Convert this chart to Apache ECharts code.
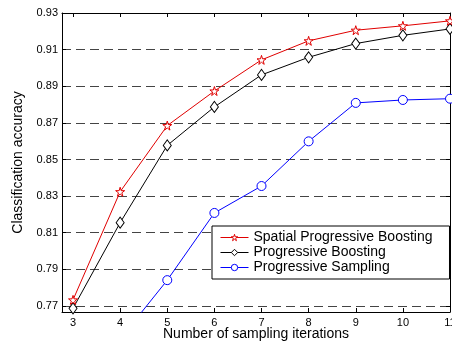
<!DOCTYPE html>
<html>
<head>
<meta charset="utf-8">
<script src="https://cdn.jsdelivr.net/npm/echarts@6/dist/echarts.min.js"></script>
<style>
  html, body { margin: 0; padding: 0; background: #fff; }
  #chart { width: 452px; height: 343px; }
</style>
</head>
<body>
<div id="chart"></div>
<script>
// iterations on the x axis
const iterations = [3, 4, 5, 6, 7, 8, 9, 10, 11]
const yTicks = [0.77, 0.79, 0.81, 0.83, 0.85, 0.87, 0.89, 0.91, 0.93]
const spatialBoosting = [0.7733, 0.8324, 0.8685, 0.8874, 0.9044, 0.9148, 0.9206, 0.9230, 0.9257]
const progBoosting = [0.7687, 0.8155, 0.8577, 0.8787, 0.8962, 0.9058, 0.9133, 0.9178, 0.9213]
const progSampling = [null, 0.752, 0.7841, 0.8208, 0.8355, 0.8599, 0.8809, 0.8825, 0.8832]

const starPath = 'path://M50,0 L61,35 L98,35 L68,57 L79,91 L50,70 L21,91 L32,57 L2,35 L39,35 Z'
const font = 'Liberation Sans'

function pairs(vals) {
  return iterations.map((x, i) => [x, vals[i]])
}

const chart = echarts.init(document.getElementById('chart'), null, { renderer: 'canvas' })

const axisLine = { show: true, lineStyle: { color: '#000', width: 1 } }

const option = {
  animation: false,
  backgroundColor: '#fff',
  grid: { left: 62, right: 2, top: 13, bottom: 31, outerBoundsMode: 'none' },
  legend: {
    orient: 'vertical',
    left: 212,
    top: 226,
    backgroundColor: '#fff',
    borderColor: '#000',
    borderWidth: 1,
    padding: [4, 17, 4, 8],
    itemWidth: 28,
    itemHeight: 8,
    itemGap: 0,
    itemStyle: { borderWidth: 1 },
    lineStyle: { width: 1 },
    textStyle: { fontFamily: font, fontSize: 14, color: '#000', lineHeight: 15 },
    data: ['Spatial Progressive Boosting', 'Progressive Boosting', 'Progressive Sampling']
  },
  xAxis: [{
    type: 'value',
    min: 2.766,
    max: 11,
    name: 'Number of sampling iterations',
    nameLocation: 'middle',
    nameGap: 15,
    nameMoveOverlap: false,
    nameTextStyle: { fontFamily: font, fontSize: 14, color: '#000' },
    axisLine: axisLine,
    axisTick: { inside: true, length: 4, customValues: iterations, lineStyle: { color: '#000' } },
    axisLabel: { customValues: iterations, margin: 5, fontFamily: font, fontSize: 11, color: '#000' },
    splitLine: { show: false }
  }, {
    type: 'value',
    position: 'top',
    min: 2.766,
    max: 11,
    axisLine: axisLine,
    axisTick: { inside: true, length: 4, customValues: iterations, lineStyle: { color: '#000' } },
    axisLabel: { show: false },
    splitLine: { show: false }
  }],
  yAxis: [{
    type: 'value',
    min: 0.7667,
    max: 0.93,
    name: 'Classification accuracy',
    nameLocation: 'middle',
    nameGap: 37,
    nameMoveOverlap: false,
    nameTextStyle: { fontFamily: font, fontSize: 14, color: '#000' },
    axisLine: axisLine,
    axisTick: { inside: true, length: 4, customValues: yTicks, lineStyle: { color: '#000' } },
    axisLabel: { customValues: yTicks, margin: 4, fontFamily: font, fontSize: 11, color: '#000',
      formatter: v => v.toFixed(2) },
    splitLine: { show: true, lineStyle: { color: '#444', type: [9, 5], width: 1 } }
  }, {
    type: 'value',
    position: 'right',
    min: 0.7667,
    max: 0.93,
    axisLine: axisLine,
    axisTick: { inside: true, length: 4, customValues: yTicks, lineStyle: { color: '#000' } },
    axisLabel: { show: false },
    splitLine: { show: false }
  }],
  series: [{
    name: 'Spatial Progressive Boosting',
    type: 'line',
    data: pairs(spatialBoosting),
    symbol: starPath,
    symbolSize: 9,
    lineStyle: { color: '#e00000', width: 1 },
    itemStyle: { color: '#fff', borderColor: '#e00000', borderWidth: 1 },
    z: 4
  }, {
    name: 'Progressive Boosting',
    type: 'line',
    data: pairs(progBoosting),
    symbol: 'diamond',
    symbolSize: [8, 11],
    lineStyle: { color: '#000', width: 1 },
    itemStyle: { color: '#fff', borderColor: '#000', borderWidth: 1 },
    z: 3
  }, {
    name: 'Progressive Sampling',
    type: 'line',
    data: pairs(progSampling),
    connectNulls: false,
    symbol: 'circle',
    symbolSize: 9,
    lineStyle: { color: '#0000ff', width: 1 },
    itemStyle: { color: '#fff', borderColor: '#0000ff', borderWidth: 1 },
    z: 2
  }]
}

chart.setOption(option)
</script>
</body>
</html>
